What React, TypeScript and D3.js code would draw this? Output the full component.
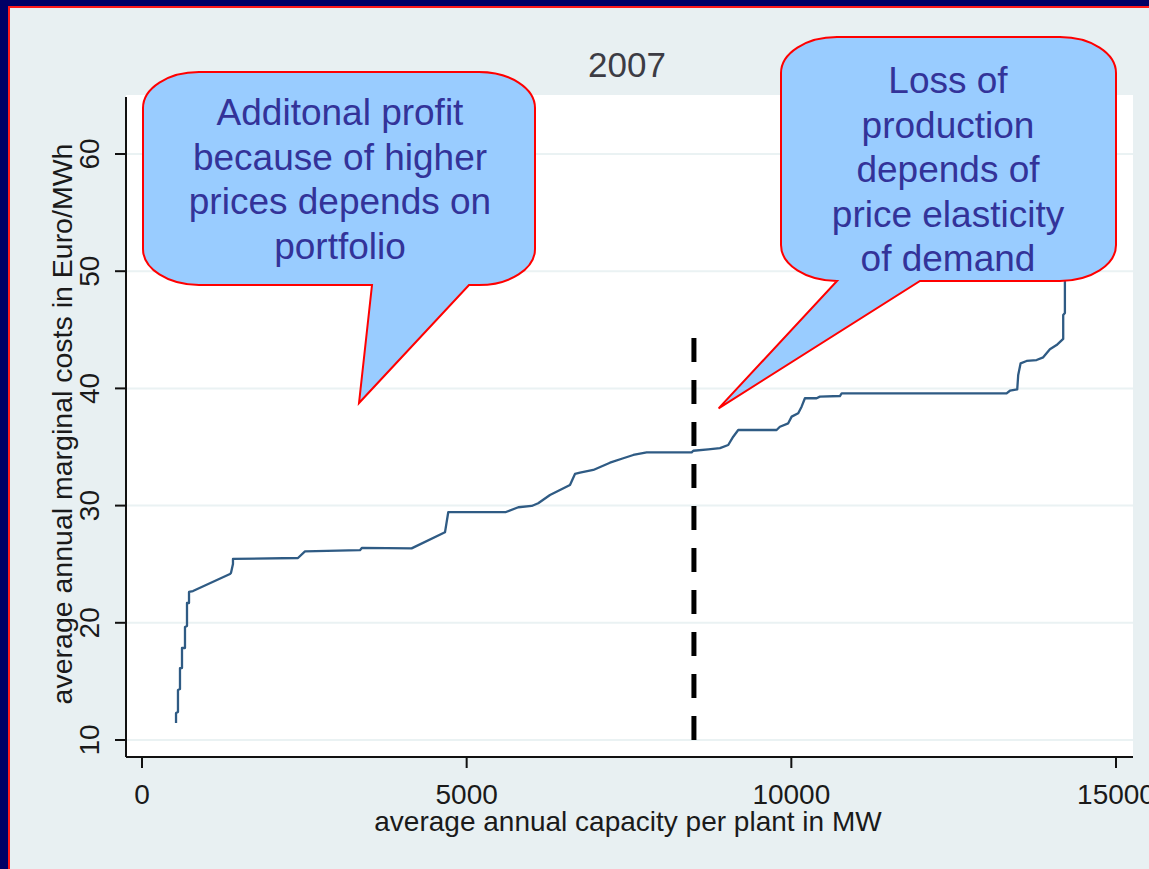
import React from "react";
import * as d3 from "d3";

// ---- data ----
const capacityMW = [
  524, 524, 554, 554, 585, 585, 616, 616, 662, 662, 693, 693, 724, 724, 785,
  1355, 1370, 1401, 1401, 2402, 2510, 3357, 3388, 4152, 4666, 4717, 5605,
  5795, 6001, 6102, 6283, 6437, 6591, 6668, 6745, 6950, 7207, 7412, 7566,
  7772, 8465, 8490, 8721, 8901, 9028, 9105, 9182, 9773, 9824, 9952, 10005,
  10106, 10158, 10209, 10389, 10440, 10748, 10775, 13315, 13366, 13479,
  13494, 13531, 13623, 13777, 13879, 13982, 14085, 14187, 14187, 14213, 14213,
];
const marginalCost = [
  11.45, 12.3, 12.39, 14.27, 14.35, 16.14, 16.14, 17.85, 17.85, 19.64, 19.73,
  21.69, 21.69, 22.63, 22.71, 24.16, 24.25, 25.02, 25.45, 25.53, 26.1, 26.2,
  26.4, 26.35, 27.72, 29.45, 29.45, 29.86, 29.97, 30.2, 30.9, 31.33, 31.76,
  32.7, 32.81, 33.04, 33.66, 34.04, 34.32, 34.54, 34.54, 34.68, 34.8, 34.91,
  35.17, 35.88, 36.45, 36.45, 36.73, 37.02, 37.59, 37.88, 38.44, 39.16, 39.16,
  39.3, 39.35, 39.58, 39.58, 39.8, 39.92, 41.14, 42.14, 42.34, 42.42, 42.65,
  43.34, 43.7, 44.22, 46.26, 46.43, 52.7,
];
const xTicks = [0, 5000, 10000, 15000];
const yTicks = [10, 20, 30, 40, 50, 60];
const dashedX = 8500;
const dashedY = [9.8, 44.3];
const titleText = "2007";
const xTitle = "average annual capacity per plant in MW";
const yTitle = "average annual marginal costs in Euro/MWh";
const callout1Lines = ["Additonal profit", "because of higher", "prices depends on", "portfolio"];
const callout2Lines = ["Loss of", "production", "depends of", "price elasticity", "of demand"];

const W = 1149;
const H = 869;

const PLOT = { left: 126, right: 1133, top: 95, bottom: 757 };

function calloutPath(
  x0: number, y0: number, x1: number, y1: number,
  rx: number, ry: number,
  tl: number, tr: number, tipX: number, tipY: number
) {
  return [
    `M${x0 + rx},${y0}`,
    `L${x1 - rx},${y0}`,
    `A${rx},${ry} 0 0 1 ${x1},${y0 + ry}`,
    `L${x1},${y1 - ry}`,
    `A${rx},${ry} 0 0 1 ${x1 - rx},${y1}`,
    `L${tr},${y1}`,
    `L${tipX},${tipY}`,
    `L${tl},${y1}`,
    `L${x0 + rx},${y1}`,
    `A${rx},${ry} 0 0 1 ${x0},${y1 - ry}`,
    `L${x0},${y0 + ry}`,
    `A${rx},${ry} 0 0 1 ${x0 + rx},${y0}`,
    "Z",
  ].join(" ");
}

export default function App() {
  const x = d3.scaleLinear().domain([0, 15000]).range([142, 1116]);
  const y = d3.scaleLinear().domain([10, 60]).range([740, 154]);

  const pts: [number, number][] = capacityMW.map((c, i) => [c, marginalCost[i]]);
  const line = d3
    .line<[number, number]>()
    .x((d) => x(d[0]))
    .y((d) => y(d[1]))
    .curve(d3.curveLinear);

  const font = "'Liberation Sans', Arial, Helvetica, sans-serif";
  const calloutFont = 37;
  const lh = 44.6;

  // callout tips in data space
  const tip1 = { x: x(3342), y: y(38.75) };
  const tip2 = { x: x(8880), y: y(38.3) };

  return (
    <svg
      width={W}
      height={H}
      style={{ position: "absolute", left: 0, top: 0 }}
      fontFamily={font}
    >
      <rect x={0} y={0} width={W} height={H} fill="#000066" />
      <rect x={8} y={6} width={W} height={H} fill="#ff1a1a" />
      <rect x={10} y={8} width={W} height={H} fill="#e8f0f2" />

      {/* plot region */}
      <rect
        x={PLOT.left}
        y={PLOT.top}
        width={PLOT.right - PLOT.left}
        height={PLOT.bottom - PLOT.top}
        fill="#ffffff"
      />
      {yTicks.map((t) => (
        <line
          key={"g" + t}
          x1={PLOT.left}
          x2={PLOT.right}
          y1={y(t)}
          y2={y(t)}
          stroke="#eaf2f3"
          strokeWidth={2}
        />
      ))}

      {/* title */}
      <text x={627} y={77} textAnchor="middle" fontSize={35} fill="#3c3c44">
        {titleText}
      </text>

      {/* axes */}
      <line x1={PLOT.left} x2={PLOT.left} y1={PLOT.top + 2} y2={PLOT.bottom} stroke="#111" strokeWidth={2} />
      <line x1={PLOT.left} x2={PLOT.right} y1={PLOT.bottom} y2={PLOT.bottom} stroke="#111" strokeWidth={2} />
      {yTicks.map((t) => (
        <g key={"yt" + t}>
          <line x1={PLOT.left - 11} x2={PLOT.left} y1={y(t)} y2={y(t)} stroke="#111" strokeWidth={2} />
          <text
            x={99}
            y={y(t)}
            transform={`rotate(-90, 99, ${y(t)})`}
            textAnchor="middle"
            fontSize={28}
            fill="#1a1a1a"
          >
            {t}
          </text>
        </g>
      ))}
      {xTicks.map((t) => (
        <g key={"xt" + t}>
          <line x1={x(t)} x2={x(t)} y1={PLOT.bottom} y2={PLOT.bottom + 11} stroke="#111" strokeWidth={2} />
          <text x={x(t)} y={804} textAnchor="middle" fontSize={28} fill="#1a1a1a">
            {t}
          </text>
        </g>
      ))}
      <text x={628} y={831} textAnchor="middle" fontSize={28} fill="#1a1a1a">
        {xTitle}
      </text>
      <text
        x={72}
        y={424}
        transform={`rotate(-90, 72, 424)`}
        textAnchor="middle"
        fontSize={28.5}
        fill="#1a1a1a"
      >
        {yTitle}
      </text>

      {/* data line */}
      <path d={line(pts) || ""} fill="none" stroke="#2f5b84" strokeWidth={2.3} strokeLinejoin="round" />

      {/* dashed vertical line */}
      <line
        x1={x(dashedX)}
        x2={x(dashedX)}
        y1={y(dashedY[1])}
        y2={y(dashedY[0])}
        stroke="#000"
        strokeWidth={5}
        strokeDasharray="24 18"
      />

      {/* callouts */}
      <path
        d={calloutPath(143, 72, 535, 285, 56, 36, 372, 469, tip1.x, tip1.y)}
        fill="#99ccff"
        stroke="#ff0000"
        strokeWidth={2}
      />
      {callout1Lines.map((s, i) => (
        <text key={"c1" + i} x={340} y={125 + i * lh} textAnchor="middle" fontSize={calloutFont} fill="#333399">
          {s}
        </text>
      ))}
      <path
        d={calloutPath(781, 37, 1116, 281, 56, 36, 837, 920, tip2.x, tip2.y)}
        fill="#99ccff"
        stroke="#ff0000"
        strokeWidth={2}
      />
      {callout2Lines.map((s, i) => (
        <text key={"c2" + i} x={948} y={93 + i * lh} textAnchor="middle" fontSize={calloutFont} fill="#333399">
          {s}
        </text>
      ))}
    </svg>
  );
}
